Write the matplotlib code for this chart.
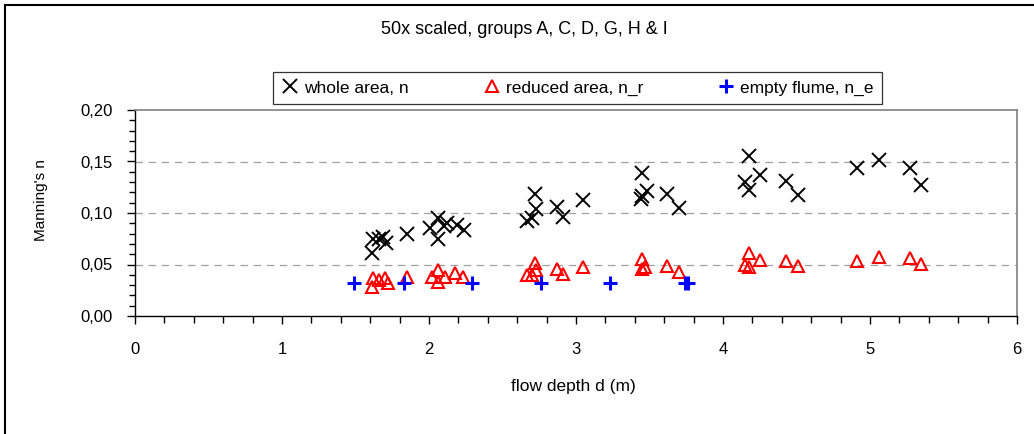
import matplotlib.pyplot as plt
from matplotlib.lines import Line2D
from matplotlib.ticker import MultipleLocator, FuncFormatter

plt.rcParams['font.family'] = ['Liberation Sans', 'DejaVu Sans']

# whole area, n
d_n = [1.61, 1.62, 1.66, 1.69, 1.71, 1.85, 2.01, 2.06, 2.06, 2.10, 2.12, 2.19, 2.24,
       2.67, 2.70, 2.73, 2.72, 2.87, 2.91, 3.05, 3.45, 3.44, 3.45, 3.48, 3.62, 3.70,
       4.18, 4.15, 4.18, 4.25, 4.43, 4.51, 4.91, 5.06, 5.27, 5.35]
n = [0.061, 0.075, 0.075, 0.077, 0.071, 0.080, 0.085, 0.095, 0.0745, 0.087, 0.090, 0.088, 0.0835,
     0.092, 0.095, 0.104, 0.118, 0.1055, 0.096, 0.113, 0.1385, 0.114, 0.1165, 0.121, 0.118, 0.105,
     0.155, 0.130, 0.122, 0.137, 0.131, 0.1175, 0.1435, 0.151, 0.1435, 0.127]

# reduced area, n_r
d_r = [1.61, 1.62, 1.66, 1.70, 1.72, 1.85, 2.02, 2.06, 2.06, 2.11, 2.18, 2.23,
       2.67, 2.70, 2.72, 2.73, 2.87, 2.91, 3.05, 3.45, 3.45, 3.47, 3.62, 3.70,
       4.18, 4.15, 4.18, 4.25, 4.43, 4.51, 4.91, 5.06, 5.27, 5.35]
n_r = [0.0285, 0.0366, 0.035, 0.0366, 0.0317, 0.038, 0.038, 0.0447, 0.033, 0.038, 0.0414, 0.038,
       0.0398, 0.0398, 0.0511, 0.0447, 0.0453, 0.0408, 0.0473, 0.055, 0.046, 0.048, 0.0485, 0.043,
       0.0615, 0.0495, 0.048, 0.0544, 0.0537, 0.0485, 0.0537, 0.0576, 0.056, 0.0505]

# empty flume, n_e
d_e = [1.49, 1.83, 2.29, 2.76, 3.23, 3.74, 3.76]
n_e = [0.032, 0.032, 0.032, 0.032, 0.032, 0.032, 0.032]

W, H = 1034, 434
fig = plt.figure(figsize=(W / 100, H / 100), dpi=100)
# plot area: x 135..1017 px, y 110..316 px from the top
ax = fig.add_axes([135 / W, (H - 316) / H, 882 / W, 206 / H])

ax.plot(d_n, n, linestyle='none', marker='x', color='black', markersize=10,
        markeredgewidth=1.4, label='whole area, n')
ax.plot(d_r, n_r, linestyle='none', marker='^', markerfacecolor='none',
        markeredgecolor='red', markersize=9, markeredgewidth=1.5, label='reduced area, n_r')
ax.plot(d_e, n_e, linestyle='none', marker='+', color='blue', markersize=10.5,
        markeredgewidth=2.2, label='empty flume, n_e')

ax.set_xlim(0, 6)
ax.set_ylim(0, 0.2)
ax.xaxis.set_major_locator(MultipleLocator(1))
ax.xaxis.set_minor_locator(MultipleLocator(0.2))
ax.yaxis.set_major_locator(MultipleLocator(0.05))
ax.yaxis.set_minor_locator(MultipleLocator(0.01))
ax.yaxis.set_major_formatter(FuncFormatter(lambda v, p: f'{v:.2f}'.replace('.', ',')))

for y in [0.05, 0.10, 0.15]:
    ax.axhline(y, color='#a0a0a0', linestyle=(0, (6, 4.5)), linewidth=0.9, zorder=0)

ax.spines['top'].set_color('#808080')
ax.spines['right'].set_color('#808080')
ax.spines['top'].set_linewidth(1.2)
ax.spines['right'].set_linewidth(1.2)
ax.spines['left'].set_linewidth(1.0)
ax.spines['bottom'].set_linewidth(1.0)

ax.tick_params(axis='both', which='major', direction='out', length=6, width=1, labelsize=12)
ax.tick_params(axis='x', which='major', pad=13)
ax.tick_params(axis='y', which='major', pad=10)
ax.tick_params(axis='x', which='minor', direction='out', length=5, width=1)
ax.tick_params(axis='y', which='minor', direction='out', length=4.5, width=1)

ax.set_xlabel('flow depth d (m)', fontsize=12.5, va='center')
ax.xaxis.set_label_coords((573 - 135) / 882, (316 - 386) / 206)
ax.set_ylabel("Manning's n", fontsize=11, va='center')
ax.yaxis.set_label_coords((41 - 135) / 882, (316 - 200) / 206)

fig.text(524 / W, 1 - 30 / H, '50x scaled, groups A, C, D, G, H & I',
         ha='center', va='center', fontsize=13)

leg = ax.legend(loc='center', bbox_to_anchor=(273 / W, 1 - 108 / H, 609 / W, 40 / H),
                bbox_transform=fig.transFigure, mode='expand', ncol=3, frameon=True,
                fancybox=False, edgecolor='black', fontsize=12.5, handletextpad=0.3,
                columnspacing=0.8, handlelength=1.0, borderpad=0.5, borderaxespad=0)
leg.get_frame().set_linewidth(0.9)

# chart area border (top and left edges)
fig.add_artist(Line2D([4.5 / W, 4.5 / W], [0, 1 - 4.5 / H], transform=fig.transFigure,
                      color='black', linewidth=1.5))
fig.add_artist(Line2D([4.5 / W, 1], [1 - 4.5 / H, 1 - 4.5 / H], transform=fig.transFigure,
                      color='black', linewidth=1.5))

fig.savefig('out.png', dpi=100)
